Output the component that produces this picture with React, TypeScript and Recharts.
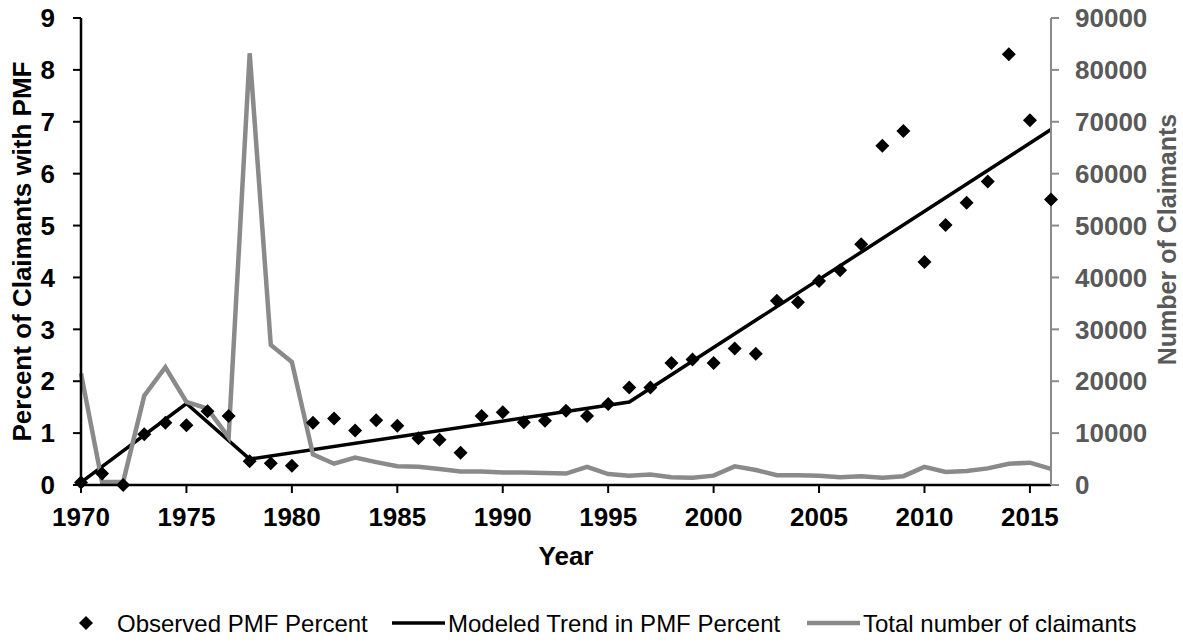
import { ComposedChart, Label, Legend, Line, Scatter, XAxis, YAxis } from "recharts";

const years = [
  1970, 1971, 1972, 1973, 1974, 1975, 1976, 1977, 1978, 1979,
  1980, 1981, 1982, 1983, 1984, 1985, 1986, 1987, 1988, 1989,
  1990, 1991, 1992, 1993, 1994, 1995, 1996, 1997, 1998, 1999,
  2000, 2001, 2002, 2003, 2004, 2005, 2006, 2007, 2008, 2009,
  2010, 2011, 2012, 2013, 2014, 2015, 2016,
];

// observed percent of claimants with PMF (left axis)
const observedPct = [
  0.05, 0.22, 0, 0.98, 1.2, 1.15, 1.42, 1.33, 0.46, 0.42,
  0.37, 1.2, 1.28, 1.05, 1.25, 1.14, 0.9, 0.87, 0.62, 1.33,
  1.4, 1.21, 1.24, 1.43, 1.33, 1.56, 1.88, 1.88, 2.35, 2.42,
  2.35, 2.63, 2.53, 3.55, 3.52, 3.93, 4.14, 4.64, 6.54, 6.82,
  4.3, 5.01, 5.44, 5.85, 8.3, 7.03, 5.5,
];

// piecewise modeled trend, only the break years carry a value
const trendPct = [
  0.05, null, null, null, null, 1.57, null, null, 0.5, null,
  null, null, null, null, null, null, null, null, null, null,
  null, null, null, null, null, null, 1.6, null, null, null,
  null, null, null, null, null, null, null, null, null, null,
  null, null, null, null, null, null, 6.85,
];

// total number of claimants (right axis)
const claimants = [
  21500, 600, 600, 17200, 22700, 16000, 14700, 9200, 83200, 27000,
  23700, 5900, 4100, 5300, 4400, 3600, 3500, 3100, 2600, 2600,
  2400, 2400, 2300, 2200, 3500, 2100, 1800, 2000, 1500, 1400,
  1800, 3600, 2900, 1900, 1900, 1800, 1500, 1700, 1400, 1700,
  3500, 2500, 2700, 3200, 4100, 4300, 3100,
];

const yearTicks = [1970, 1975, 1980, 1985, 1990, 1995, 2000, 2005, 2010, 2015];
const pctTicks = [0, 1, 2, 3, 4, 5, 6, 7, 8, 9];
const claimTicks = [0, 10000, 20000, 30000, 40000, 50000, 60000, 70000, 80000, 90000];

const rows = years.map((year, i) => ({
  year,
  observed: observedPct[i],
  trend: trendPct[i],
  claimants: claimants[i],
}));

const font = "'Liberation Sans', Arial, sans-serif";
const gray = "#8a8a8a";
const grayText = "#595959";

function Diamond(props: any) {
  const { cx, cy } = props;
  if (cx == null || cy == null) return null;
  const r = 7;
  return <polygon points={`${cx},${cy - r} ${cx + r},${cy} ${cx},${cy + r} ${cx - r},${cy}`} fill="#000" />;
}

function LeftTitle(props: any) {
  const { viewBox } = props;
  const cx = viewBox.x + 22;
  const cy = viewBox.y + viewBox.height / 2;
  return (
    <text x={cx} y={cy} transform={`rotate(-90 ${cx} ${cy})`} textAnchor="middle" dominantBaseline="central"
      fontFamily={font} fontSize={26} fontWeight={700} fill="#000">
      Percent of Claimants with PMF
    </text>
  );
}

function RightTitle(props: any) {
  const { viewBox } = props;
  const cx = viewBox.x + 116;
  const cy = viewBox.y + viewBox.height / 2 - 12;
  return (
    <text x={cx} y={cy} transform={`rotate(-90 ${cx} ${cy})`} textAnchor="middle" dominantBaseline="central"
      fontFamily={font} fontSize={25} fontWeight={700} fill={grayText}>
      Number of Claimants
    </text>
  );
}

function YearTitle(props: any) {
  const { viewBox } = props;
  return (
    <text x={viewBox.x + viewBox.width / 2} y={565} textAnchor="middle"
      fontFamily={font} fontSize={26} fontWeight={700} fill="#000">
      Year
    </text>
  );
}

function ChartLegend() {
  const y = 27;
  const text = { fontFamily: font, fontSize: 24, fill: "#000" };
  return (
    <svg width={1183} height={48} style={{ display: "block" }}>
      <polygon points={`86,${y - 7} 93,${y} 86,${y + 7} 79,${y}`} fill="#000" />
      <text x={117} y={y} dominantBaseline="central" {...text}>Observed PMF Percent</text>
      <line x1={392} x2={445} y1={y} y2={y} stroke="#000" strokeWidth={3.5} />
      <text x={448} y={y} dominantBaseline="central" {...text}>Modeled Trend in PMF Percent</text>
      <line x1={807} x2={860} y1={y} y2={y} stroke={gray} strokeWidth={4.5} />
      <text x={863} y={y} dominantBaseline="central" {...text}>Total number of claimants</text>
    </svg>
  );
}

export default function App() {
  return (
    <div style={{ position: "absolute", left: 0, top: 0, background: "#fff" }}>
      <ComposedChart width={1183} height={644} data={rows} margin={{ top: 18, right: 0, bottom: 0, left: 0 }}>
        <XAxis
          dataKey="year"
          type="number"
          domain={[1970, 2016]}
          ticks={yearTicks}
          height={111}
          tickSize={8}
          tickMargin={15}
          axisLine={{ stroke: "#000", strokeWidth: 2.5 }}
          tickLine={{ stroke: "#000", strokeWidth: 2 }}
          tick={{ fill: "#000", fontSize: 26, fontWeight: 700, fontFamily: font }}
        >
          <Label content={YearTitle} />
        </XAxis>
        <YAxis
          yAxisId="left"
          domain={[0, 9]}
          ticks={pctTicks}
          width={81}
          tickSize={8}
          tickMargin={18}
          axisLine={{ stroke: "#000", strokeWidth: 2.5 }}
          tickLine={{ stroke: "#000", strokeWidth: 2 }}
          tick={{ fill: "#000", fontSize: 26, fontWeight: 700, fontFamily: font }}
        >
          <Label content={LeftTitle} />
        </YAxis>
        <YAxis
          yAxisId="right"
          orientation="right"
          domain={[0, 90000]}
          ticks={claimTicks}
          width={132}
          tickSize={8}
          tickMargin={16}
          axisLine={{ stroke: gray, strokeWidth: 2 }}
          tickLine={{ stroke: gray, strokeWidth: 2 }}
          tick={{ fill: grayText, fontSize: 26, fontWeight: 700, fontFamily: font, textAnchor: "start" }}
        >
          <Label content={RightTitle} />
        </YAxis>
        <Legend verticalAlign="bottom" height={48} content={ChartLegend} />
        <Scatter yAxisId="left" dataKey="observed" shape={Diamond} isAnimationActive={false} />
        <Line yAxisId="left" dataKey="trend" connectNulls stroke="#000" strokeWidth={3.5} dot={false} isAnimationActive={false} />
        <Line yAxisId="right" dataKey="claimants" stroke={gray} strokeWidth={4.5} dot={false} isAnimationActive={false} />
      </ComposedChart>
    </div>
  );
}
